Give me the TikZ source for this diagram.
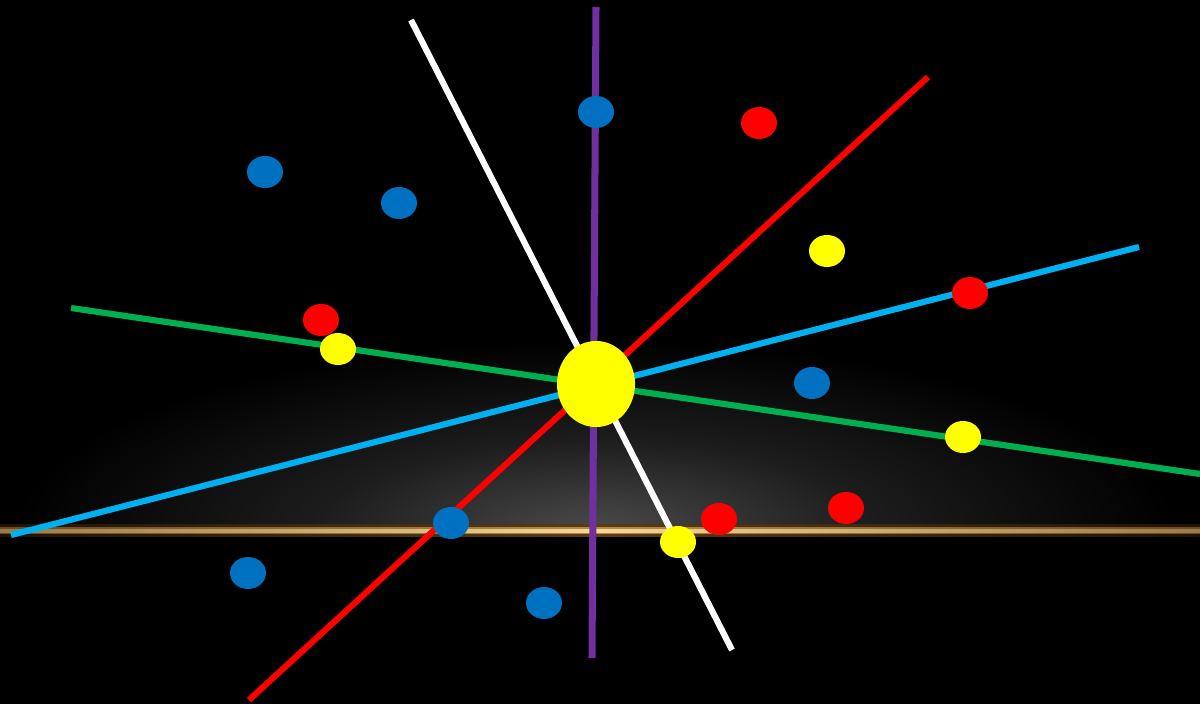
\documentclass[tikz,border=0pt]{standalone}
\usetikzlibrary{shapes.geometric}
\definecolor{dblue}{HTML}{0070C0}
\definecolor{dred}{HTML}{FF0000}
\definecolor{dyellow}{HTML}{FFFF00}
\definecolor{dgreen}{HTML}{00B050}
\definecolor{dcyan}{HTML}{00B0F0}
\definecolor{dpurple}{HTML}{7030A0}
\definecolor{haloend}{HTML}{1E1206}
\definecolor{halomid}{HTML}{5A3C16}
\definecolor{midend}{HTML}{6A4A22}
\definecolor{midmid}{HTML}{B88A48}
\definecolor{coreend}{HTML}{9A7A48}
\definecolor{coremid}{HTML}{F4D898}
\definecolor{glowc}{HTML}{4A4A4A}
\definecolor{glowm}{HTML}{1C1C1C}
\pgfdeclareradialshading{glow}{\pgfpoint{0bp}{0bp}}{color(0bp)=(glowc); color(12bp)=(glowm); color(25bp)=(black); color(50bp)=(black)}
\tikzset{
  ray/.style={line width=1.75pt},
  dot/.style={ellipse, minimum width=0.36cm, minimum height=0.32cm, inner sep=0pt, draw=none},
}
\begin{document}
\begin{tikzpicture}[x=0.01cm,y=-0.01cm]
\fill[black] (0,0) rectangle (1200,704);
\useasboundingbox (0,0) rectangle (1200,704);
% glow above horizon
\begin{scope}
\clip (0,300) rectangle (1200,531);
\shade[shading=glow] (16,340) rectangle (1176,720);
\end{scope}
% horizon line
\shade[left color=haloend, right color=haloend, middle color=halomid] (0,525) rectangle (1200,537);
\shade[left color=midend, right color=midend, middle color=midmid] (0,528) rectangle (1200,534);
\shade[left color=coreend, right color=coreend, middle color=coremid] (0,529.8) rectangle (1200,532.2);
% ray end points
\coordinate (w1) at (411,20);   \coordinate (w2) at (732,650);
\coordinate (p1) at (596,7);    \coordinate (p2) at (592,658);
\coordinate (r1) at (928,77);   \coordinate (r2) at (249,700);
\coordinate (c1) at (1139,247); \coordinate (c2) at (11,535);
\coordinate (g1) at (71,308);   \coordinate (g2) at (1200,474);
\draw[ray, white] (w1) -- (w2);
\draw[ray, dpurple, line width=2pt] (p1) -- (p2);
\draw[ray, dred] (r1) -- (r2);
\draw[ray, dcyan] (c1) -- (c2);
\draw[ray, dgreen] (g1) -- (g2);
% centre
\node[ellipse, fill=dyellow, minimum width=0.78cm, minimum height=0.86cm, inner sep=0pt] (sun) at (596,384) {};
% blue dots
\node[dot, fill=dblue] (b1) at (596,112) {};
\node[dot, fill=dblue] (b2) at (265,172) {};
\node[dot, fill=dblue] (b3) at (399,203) {};
\node[dot, fill=dblue] (b4) at (812,383) {};
\node[dot, fill=dblue] (b5) at (451,523) {};
\node[dot, fill=dblue] (b6) at (248,573) {};
\node[dot, fill=dblue] (b7) at (544,603) {};
% red dots
\node[dot, fill=dred] (rd1) at (759,123) {};
\node[dot, fill=dred] (rd2) at (970,293) {};
\node[dot, fill=dred] (rd3) at (321,320) {};
\node[dot, fill=dred] (rd4) at (719,519) {};
\node[dot, fill=dred] (rd5) at (846,508) {};
% yellow dots
\node[dot, fill=dyellow] (y1) at (827,251) {};
\node[dot, fill=dyellow] (y2) at (338,349) {};
\node[dot, fill=dyellow] (y3) at (963,437) {};
\node[dot, fill=dyellow] (y4) at (678,542) {};
\end{tikzpicture}
\end{document}
